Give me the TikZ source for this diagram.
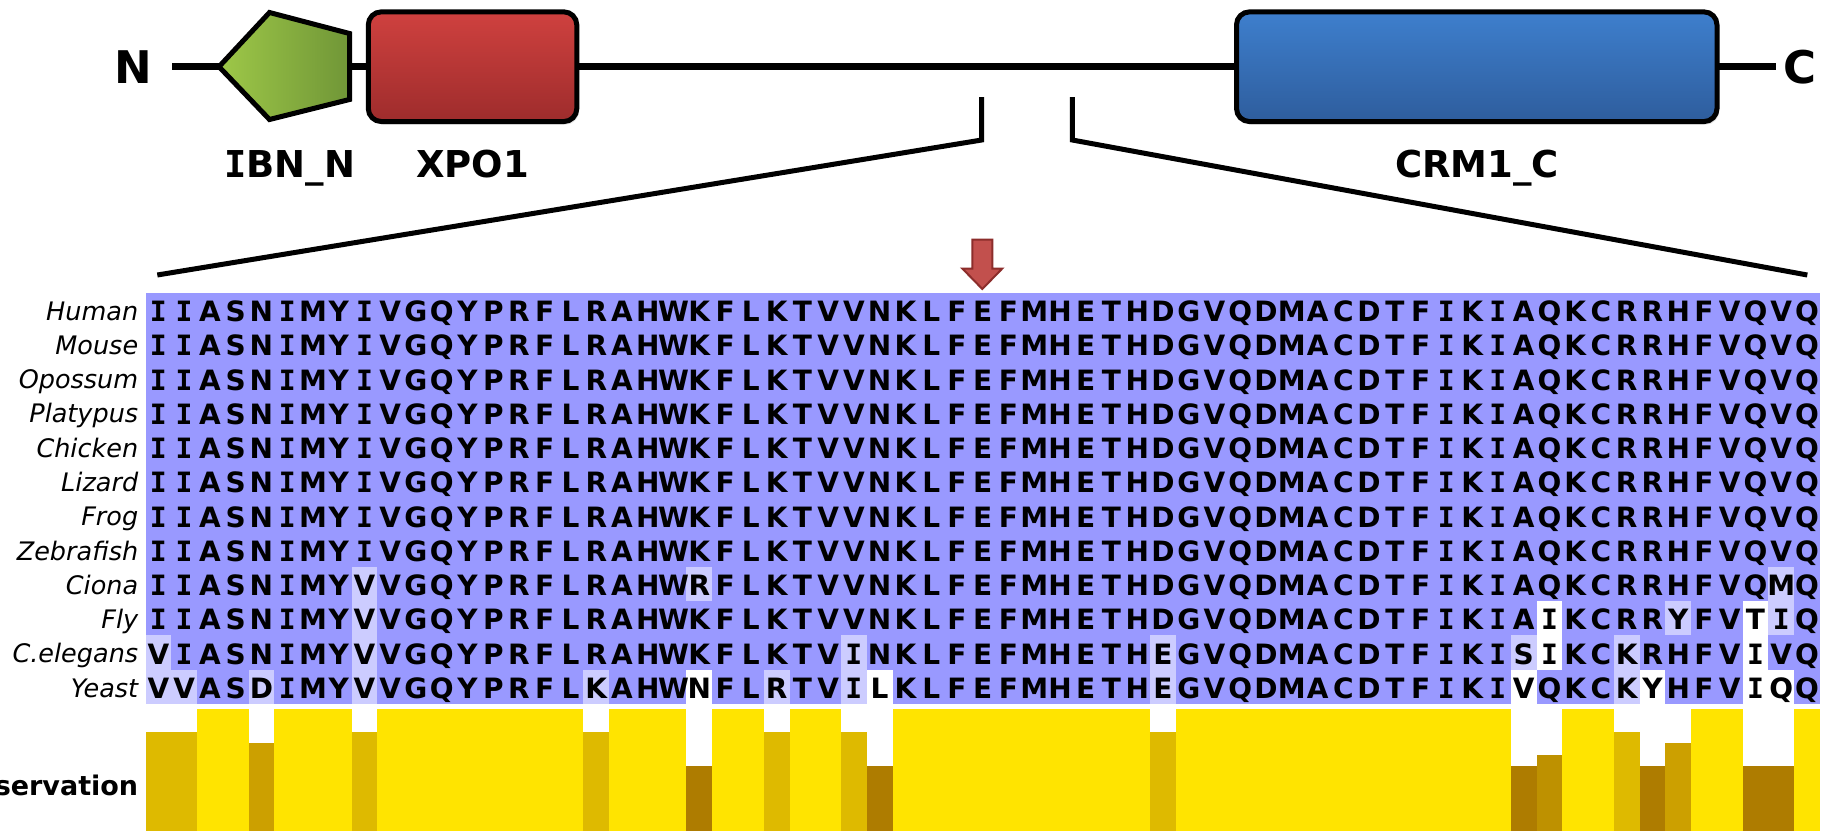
\documentclass[tikz,border=0pt]{standalone}
\usepackage{fontspec}
\setmainfont{DejaVu Sans}
\newfontfamily\dvmono{DejaVu Sans Mono}
\usetikzlibrary{shadows}
\definecolor{aablue}{RGB}{153,153,255}
\definecolor{aalight}{RGB}{204,204,255}
\definecolor{consY}{RGB}{255,228,0}
\definecolor{consA}{RGB}{222,186,0}
\definecolor{consB}{RGB}{204,160,0}
\definecolor{consC}{RGB}{190,145,0}
\definecolor{consD}{RGB}{174,124,0}
\definecolor{redtop}{RGB}{207,65,63}
\definecolor{redbot}{RGB}{158,44,44}
\definecolor{bluetop}{RGB}{62,127,205}
\definecolor{bluebot}{RGB}{46,93,157}
\definecolor{greenL}{RGB}{158,200,72}
\definecolor{greenR}{RGB}{112,150,55}
\definecolor{arrowfill}{RGB}{194,80,77}
\definecolor{arrowdraw}{RGB}{140,45,43}
\def\aaI{I}
\newcommand\aares[1]{\edef\aatmp{#1}\ifx\aatmp\aaI{\dvmono I}\else #1\fi}
\def\seqA{I,I,A,S,N,I,M,Y,I,V,G,Q,Y,P,R,F,L,R,A,H,W,K,F,L,K,T,V,V,N,K,L,F,E,F,M,H,E,T,H,D,G,V,Q,D,M,A,C,D,T,F,I,K,I,A,Q,K,C,R,R,H,F,V,Q,V,Q}
\def\seqCi{I,I,A,S,N,I,M,Y,V,V,G,Q,Y,P,R,F,L,R,A,H,W,R,F,L,K,T,V,V,N,K,L,F,E,F,M,H,E,T,H,D,G,V,Q,D,M,A,C,D,T,F,I,K,I,A,Q,K,C,R,R,H,F,V,Q,M,Q}
\def\seqFl{I,I,A,S,N,I,M,Y,V,V,G,Q,Y,P,R,F,L,R,A,H,W,K,F,L,K,T,V,V,N,K,L,F,E,F,M,H,E,T,H,D,G,V,Q,D,M,A,C,D,T,F,I,K,I,A,I,K,C,R,R,Y,F,V,T,I,Q}
\def\seqCe{V,I,A,S,N,I,M,Y,V,V,G,Q,Y,P,R,F,L,R,A,H,W,K,F,L,K,T,V,I,N,K,L,F,E,F,M,H,E,T,H,E,G,V,Q,D,M,A,C,D,T,F,I,K,I,S,I,K,C,K,R,H,F,V,I,V,Q}
\def\seqYe{V,V,A,S,D,I,M,Y,V,V,G,Q,Y,P,R,F,L,K,A,H,W,N,F,L,R,T,V,I,L,K,L,F,E,F,M,H,E,T,H,E,G,V,Q,D,M,A,C,D,T,F,I,K,I,V,Q,K,C,K,Y,H,F,V,I,Q,Q}
\tikzset{
  domainbox/.style={draw=black, line width=5pt, rounded corners=13pt, inner sep=0pt,
     drop shadow={opacity=0.22, shadow xshift=2pt, shadow yshift=-3pt}},
  dlabel/.style={font=\fontsize{37}{37}\selectfont\bfseries, anchor=base, inner sep=0pt},
  nclabel/.style={font=\fontsize{45}{45}\selectfont\bfseries, anchor=base, inner sep=0pt},
  zoomline/.style={line width=5pt, line join=miter},
  spname/.style={font=\fontsize{25.5}{25.5}\selectfont\itshape, anchor=base east, inner sep=0pt},
  aa/.style={font=\fontsize{28}{28}\selectfont\bfseries, anchor=base, inner sep=0pt},
  conslabel/.style={font=\fontsize{27}{27}\selectfont\bfseries, anchor=base east, inner sep=0pt},
}
\begin{document}
\begin{tikzpicture}[x=1pt,y=-1pt]
\useasboundingbox (0,0) rectangle (1829,831);
\clip (0,0) rectangle (1829,831);
\fill[white] (0,0) rectangle (1829,831);
% ---- domain architecture ----
\coordinate (lineL) at (172,66.7);
\coordinate (lineR) at (1775.6,66.7);
\draw[line width=7pt] (lineL) -- (lineR);
\node[nclabel] (nterm) at (133.5,83) {N};
\node[nclabel] (cterm) at (1799.6,83) {C};
\coordinate (p1) at (219,66.7);
\coordinate (p2) at (269.5,12.5);
\coordinate (p3) at (349.5,33.5);
\coordinate (p4) at (349.5,99.5);
\coordinate (p5) at (269.5,119.5);
\draw[line width=5pt, line join=miter, left color=greenL, right color=greenR]
  (p1) -- (p2) -- (p3) -- (p4) -- (p5) -- cycle;
\node[domainbox, top color=redtop, bottom color=redbot, minimum width=208.5pt, minimum height=109.7pt]
  (xpo1) at (472.55,66.7) {};
\node[domainbox, top color=bluetop, bottom color=bluebot, minimum width=480.5pt, minimum height=109.7pt]
  (crm1) at (1476.75,66.7) {};
\node[dlabel] (ibnlab) at (289.6,177) {{\dvmono I}BN\_N};
\node[dlabel] (xpolab) at (472.6,177) {XPO1};
\node[dlabel] (crmlab) at (1477,177) {CRM1\_C};
% ---- zoom lines ----
\coordinate (tkL) at (981.7,97);
\coordinate (knL) at (981.7,140);
\coordinate (endL) at (157.3,275);
\coordinate (tkR) at (1072.3,97);
\coordinate (knR) at (1072.3,140);
\coordinate (endR) at (1807.3,275);
\draw[zoomline] (tkL) -- (knL) -- (endL);
\draw[zoomline] (tkR) -- (knR) -- (endR);
% ---- alignment ----
\fill[aablue] (145.5,292.5) rectangle (1819.9,703.9);
\foreach \c/\r in {1/11,1/12,2/12,5/12,9/9,9/10,9/11,9/12,18/12,22/9,25/12,28/11,28/12,40/11,40/12,54/11,58/11,58/12,60/10,64/9,64/10}
  \fill[aalight] ({145.5+(\c-1)*25.76},{292.5+(\r-1)*34.28}) rectangle +(25.76,34.28);
\foreach \c/\r in {22/12,29/12,55/10,55/11,63/10,63/11,63/12,54/12,59/12,64/12}
  \fill[white] ({145.5+(\c-1)*25.76},{292.5+(\r-1)*34.28}) rectangle +(25.76,34.28);
\foreach \nm/\sq [count=\r] in {Human/\seqA,Mouse/\seqA,Opossum/\seqA,Platypus/\seqA,Chicken/\seqA,Lizard/\seqA,Frog/\seqA,Zebrafish/\seqA,Ciona/\seqCi,Fly/\seqFl,C.elegans/\seqCe,Yeast/\seqYe}{
  \node[spname] (name\r) at (138.4,{292.5+(\r-0.5)*34.28+10.5}) {\nm};
  \edef\curseq{\sq}
  \foreach \c [count=\i] in \curseq {
    \node[aa] (aa-\r-\i) at ({145.5+(\i-0.5)*25.76},{292.5+(\r-0.5)*34.28+11.8}) {\aares{\c}};
  }
}
% ---- red arrow ----
\node[inner sep=0pt] (mark) at (982.3,289) {};
\draw[fill=arrowfill, draw=arrowdraw, line width=2pt, line join=miter]
  (972.3,239.5) -- (992.3,239.5) -- (992.3,268.5) -- (1002.3,268.5) -- (mark.center)
  -- (962.3,268.5) -- (972.3,268.5) -- cycle;
% ---- conservation ----
\fill[consY] (145.5,709) rectangle (1819.9,831);
\foreach \c/\t/\col in {1/731.7/consA,2/731.7/consA,9/731.7/consA,18/731.7/consA,25/731.7/consA,28/731.7/consA,40/731.7/consA,58/731.7/consA,
  5/742.7/consB,60/742.7/consB,55/754.5/consC,
  22/766/consD,29/766/consD,54/766/consD,59/766/consD,63/766/consD,64/766/consD}{
  \fill[white] ({145.5+(\c-1)*25.76},709) rectangle ({145.5+\c*25.76},\t);
  \fill[\col] ({145.5+(\c-1)*25.76},\t) rectangle ({145.5+\c*25.76},831);
}
\node[conslabel] (cons) at (138.4,795) {Conservation};
\end{tikzpicture}
\end{document}
